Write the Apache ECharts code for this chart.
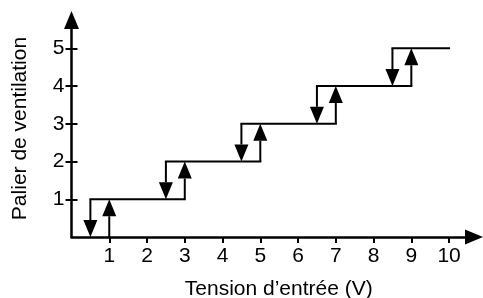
<!DOCTYPE html>
<html>
<head>
<meta charset="utf-8">
<script src="https://cdn.jsdelivr.net/npm/echarts@6/dist/echarts.min.js"></script>
<style>
  html, body { margin: 0; padding: 0; background: #fff; }
  #main { width: 483px; height: 298px; }
</style>
</head>
<body>
<div id="main"></div>
<script>
// hysteresis thresholds (V) and fan levels
var downX = [0.5, 2.5, 4.5, 6.5, 8.5];
var upX = [1, 3, 5, 7, 9];
var levels = [1, 2, 3, 4, 5];
var stepEnd = [3, 5, 7, 9, 10];
var xTicks = [1, 2, 3, 4, 5, 6, 7, 8, 9, 10];
var yTicks = [1, 2, 3, 4, 5];

window.onload = function () {
    var myChart = echarts.init(document.getElementById('main'));
    var FONT = '"Liberation Sans", Arial, sans-serif';

    var steps = levels.map(function (lv, i) { return [downX[i], stepEnd[i], lv]; });
    var downArrows = levels.map(function (lv, i) { return [downX[i], lv, lv - 1]; });
    var upArrows = levels.map(function (lv, i) { return [upX[i], lv - 1, lv]; });

    function renderStep(params, api) {
        var a = api.coord([api.value(0), api.value(2)]);
        var b = api.coord([api.value(1), api.value(2)]);
        return {
            type: 'line',
            shape: { x1: a[0] - 1, y1: a[1], x2: b[0] + 1, y2: b[1] },
            style: { stroke: '#000', lineWidth: 2 }
        };
    }

    function renderArrow(params, api) {
        var x = api.value(0);
        var p0 = api.coord([x, api.value(1)]);
        var p1 = api.coord([x, api.value(2)]);
        var dir = p1[1] > p0[1] ? 1 : -1;
        var headLen = 17, headW = 7;
        var base = p1[1] - dir * headLen;
        return {
            type: 'group',
            children: [
                { type: 'line', shape: { x1: p0[0], y1: p0[1], x2: p1[0], y2: base }, style: { stroke: '#000', lineWidth: 2 } },
                { type: 'polygon', shape: { points: [[p1[0], p1[1]], [p1[0] - headW, base], [p1[0] + headW, base]] }, style: { fill: '#000' } }
            ]
        };
    }

    function axisBase(max) {
        return {
            type: 'value',
            min: 0,
            max: max,
            splitLine: { show: false }
        };
    }

    var xMain = axisBase(10.66);
    xMain.name = 'Tension d\u2019entrée (V)';
    xMain.nameLocation = 'middle';
    xMain.nameGap = 42;
    xMain.nameTextStyle = { fontSize: 21, color: '#000', fontFamily: FONT, padding: [0, 0, 0, 12] };
    xMain.axisLine = { show: true, symbol: ['none', 'triangle'], symbolSize: [15, 18], lineStyle: { color: '#000', width: 2.5 } };
    xMain.axisTick = { show: true, customValues: xTicks, length: 6, lineStyle: { color: '#000', width: 2 } };
    xMain.axisLabel = { customValues: xTicks, fontSize: 21, color: '#000', fontFamily: FONT, margin: 9 };

    var xInner = axisBase(10.66);
    xInner.axisLine = { show: false };
    xInner.axisTick = { show: true, inside: true, customValues: xTicks, length: 6, lineStyle: { color: '#000', width: 2 } };
    xInner.axisLabel = { show: false };

    var yMain = axisBase(5.75);
    yMain.name = 'Palier de ventilation';
    yMain.nameLocation = 'middle';
    yMain.nameGap = 41;
    yMain.nameTextStyle = { fontSize: 21, color: '#000', fontFamily: FONT };
    yMain.axisLine = { show: true, symbol: ['none', 'triangle'], symbolSize: [15, 18], lineStyle: { color: '#000', width: 2.5 } };
    yMain.axisTick = { show: true, customValues: yTicks, length: 6, lineStyle: { color: '#000', width: 2 } };
    yMain.axisLabel = { customValues: yTicks, fontSize: 21, color: '#000', fontFamily: FONT, margin: 7 };

    var yInner = axisBase(5.75);
    yInner.position = 'left';
    yInner.axisLine = { show: false };
    yInner.axisTick = { show: true, inside: true, customValues: yTicks, length: 6, lineStyle: { color: '#000', width: 2 } };
    yInner.axisLabel = { show: false };

    var option = {
        animation: false,
        grid: { left: 71.5, top: 20, right: 9, bottom: 61, containLabel: false, outerBoundsMode: 'none' },
        xAxis: [xMain, xInner],
        yAxis: [yMain, yInner],
        series: [
            { type: 'custom', renderItem: renderStep, data: steps, clip: false, silent: true },
            { type: 'custom', renderItem: renderArrow, data: downArrows, clip: false, silent: true },
            { type: 'custom', renderItem: renderArrow, data: upArrows, clip: false, silent: true }
        ]
    };
    myChart.setOption(option);
};
</script>
</body>
</html>
